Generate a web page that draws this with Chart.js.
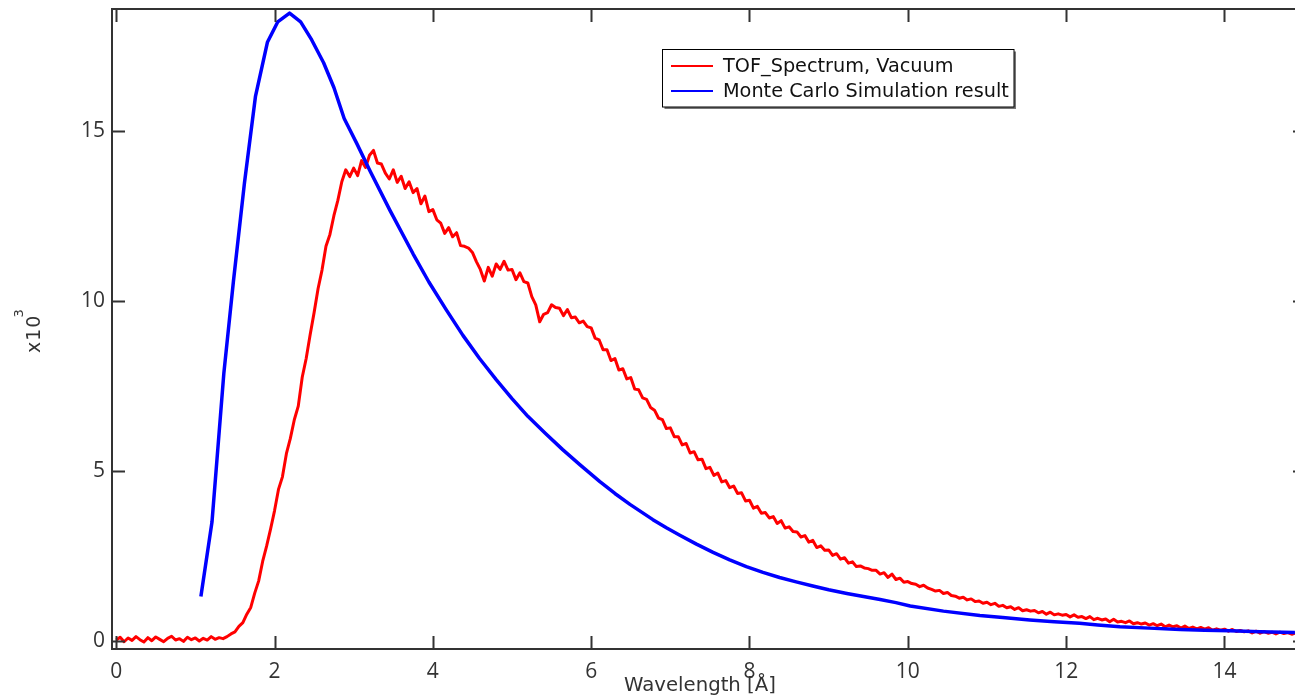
<!DOCTYPE html>
<html>
<head>
<meta charset="utf-8">
<title>TOF spectrum vs Monte Carlo</title>
<script src="https://cdn.jsdelivr.net/npm/chart.js@4.4.1/dist/chart.umd.min.js"></script>
<style>
  html, body { margin: 0; padding: 0; background: #fff; }
  #wrap { width: 1295px; height: 698px; overflow: hidden; position: relative; }
  canvas { display: block; }
</style>
</head>
<body>
<div id="wrap"><canvas id="c" width="1310" height="698" style="width:1310px;height:698px"></canvas></div>
<script>
// ---- data (counts in units of 10^3) ----
const xTicks = [0, 2, 4, 6, 8, 10, 12, 14];
const yTicks = [0, 5, 10, 15];

const tofLabel = 'TOF_Spectrum, Vacuum';
const mcLabel = 'Monte Carlo Simulation result';
const xTitle = 'Wavelength [Å]';
const yTitle = 'x10';
const yTitleExp = '3';

// measured spectrum, sampled every 0.05 Å from 0 Å
const tofStart = 0;
const tofStep = 0.05;
const tofCounts = [
  0.02, 0.10, -0.03, 0.08, 0.01, 0.12, 0.03, -0.04, 0.09, 0.00, 0.11, 0.04, -0.03, 0.07, 0.13, 0.02, 0.06, -0.02, 0.10, 0.03,
  0.08, -0.01, 0.07, 0.02, 0.12, 0.04, 0.09, 0.06, 0.12, 0.20, 0.26, 0.42, 0.53, 0.78, 0.98, 1.40, 1.76, 2.33, 2.78, 3.28,
  3.82, 4.45, 4.82, 5.50, 5.95, 6.50, 6.90, 7.75, 8.30, 9.00, 9.65, 10.35, 10.90, 11.60, 11.95, 12.50, 12.95, 13.50, 13.85, 13.65,
  13.90, 13.68, 14.12, 13.92, 14.28, 14.42, 14.05, 14.02, 13.75, 13.58, 13.85, 13.48, 13.66, 13.30, 13.50, 13.18, 13.30, 12.85, 13.08, 12.62,
  12.68, 12.38, 12.28, 11.98, 12.15, 11.88, 12.00, 11.62, 11.60, 11.55, 11.42, 11.15, 10.92, 10.58, 10.98, 10.72, 11.08, 10.92, 11.16, 10.90,
  10.92, 10.62, 10.82, 10.56, 10.52, 10.12, 9.88, 9.38, 9.60, 9.65, 9.88, 9.80, 9.78, 9.56, 9.74, 9.50, 9.52, 9.35, 9.40, 9.24,
  9.20, 8.90, 8.85, 8.56, 8.56, 8.24, 8.30, 7.96, 8.00, 7.70, 7.74, 7.40, 7.38, 7.14, 7.10, 6.86, 6.78, 6.55, 6.50, 6.24,
  6.26, 6.00, 6.00, 5.76, 5.80, 5.52, 5.56, 5.32, 5.34, 5.06, 5.10, 4.86, 4.93, 4.67, 4.71, 4.50, 4.55, 4.33, 4.35, 4.11,
  4.13, 3.90, 3.95, 3.75, 3.77, 3.61, 3.65, 3.45, 3.53, 3.31, 3.35, 3.21, 3.20, 3.05, 3.09, 2.90, 2.95, 2.74, 2.79, 2.66,
  2.67, 2.51, 2.56, 2.40, 2.44, 2.28, 2.32, 2.18, 2.20, 2.14, 2.12, 2.07, 2.07, 1.96, 2.00, 1.86, 1.96, 1.80, 1.84, 1.72,
  1.74, 1.68, 1.66, 1.59, 1.63, 1.55, 1.51, 1.46, 1.48, 1.39, 1.42, 1.33, 1.31, 1.25, 1.28, 1.20, 1.23, 1.15, 1.17, 1.10,
  1.13, 1.06, 1.10, 1.01, 1.04, 0.97, 1.00, 0.92, 0.97, 0.88, 0.91, 0.87, 0.89, 0.82, 0.86, 0.78, 0.84, 0.76, 0.79, 0.75,
  0.77, 0.70, 0.76, 0.69, 0.71, 0.65, 0.71, 0.62, 0.66, 0.61, 0.64, 0.56, 0.63, 0.55, 0.57, 0.53, 0.58, 0.50, 0.53, 0.49,
  0.52, 0.46, 0.50, 0.44, 0.49, 0.41, 0.46, 0.41, 0.44, 0.37, 0.43, 0.36, 0.40, 0.35, 0.39, 0.34, 0.38, 0.31, 0.35, 0.31,
  0.34, 0.28, 0.33, 0.27, 0.30, 0.26, 0.29, 0.23, 0.28, 0.22, 0.27, 0.22, 0.25, 0.20, 0.25, 0.21, 0.24, 0.19, 0.23
];

// simulated spectrum
const mcWavelength = [
  1.07, 1.21, 1.36, 1.48, 1.62, 1.76, 1.91, 2.04, 2.19, 2.33,
  2.47, 2.62, 2.75, 2.88, 3.04, 3.21, 3.46, 3.75, 3.95, 4.17,
  4.38, 4.59, 4.80, 5.00, 5.20, 5.42, 5.64, 5.86, 6.11, 6.30,
  6.49, 6.78, 6.95, 7.12, 7.33, 7.54, 7.75, 7.96, 8.17, 8.38,
  8.59, 8.80, 9.00, 9.23, 9.44, 9.65, 9.85, 10.03, 10.45, 10.91,
  11.20, 11.54, 11.85, 12.17, 12.40, 12.68, 13.05, 13.44, 13.75, 14.07,
  14.45, 14.89
];
const mcCounts = [
  1.30, 3.49, 7.87, 10.55, 13.46, 16.02, 17.60, 18.20, 18.46, 18.20,
  17.67, 17.00, 16.27, 15.36, 14.62, 13.80, 12.65, 11.38, 10.55, 9.73,
  8.98, 8.30, 7.68, 7.12, 6.60, 6.10, 5.62, 5.17, 4.68, 4.33,
  4.01, 3.56, 3.32, 3.10, 2.84, 2.60, 2.38, 2.18, 2.01, 1.86,
  1.73, 1.61, 1.50, 1.39, 1.30, 1.21, 1.12, 1.02, 0.87, 0.74,
  0.68, 0.61, 0.56, 0.51, 0.46, 0.41, 0.37, 0.33, 0.31, 0.29,
  0.26, 0.24
];

// ---- styling ----
const TICK_FONT = "'Open Sans', 'DejaVu Sans', sans-serif";
const TEXT_FONT = "'DejaVu Sans', 'Open Sans', sans-serif";
const AXIS_COLOR = '#333';
const TEXT_COLOR = '#333';
const RED = '#ff0000';
const BLUE = '#0000ff';
const TICK_LEN = 13;

const tofPoints = tofCounts.map((v, i) => ({ x: +(tofStart + i * tofStep).toFixed(2), y: v }));
const mcPoints = mcWavelength.map((x, i) => ({ x: x, y: mcCounts[i] }));

// pick a font size so that a string spans the given width
function fitFont(ctx, text, family, width, base) {
  ctx.font = base + 'px ' + family;
  const w = ctx.measureText(text).width;
  return base * width / w;
}

// frame with inward ticks on all four sides, legend box and axis titles
const decorations = {
  id: 'decorations',
  afterDatasetsDraw(chart) {
    const ctx = chart.ctx;
    const { left, right, top, bottom } = chart.chartArea;
    const xs = chart.scales.x, ys = chart.scales.y;
    ctx.save();
    ctx.strokeStyle = AXIS_COLOR;
    ctx.lineWidth = 2;
    ctx.beginPath();
    ctx.rect(left, top, right - left, bottom - top);
    for (const v of xTicks) {
      const px = Math.round(xs.getPixelForValue(v)) + 0.5;
      ctx.moveTo(px, bottom); ctx.lineTo(px, bottom - TICK_LEN);
      ctx.moveTo(px, top); ctx.lineTo(px, top + TICK_LEN);
    }
    for (const v of yTicks) {
      const py = Math.round(ys.getPixelForValue(v)) + 0.5;
      ctx.moveTo(left, py); ctx.lineTo(left + TICK_LEN, py);
      ctx.moveTo(right, py); ctx.lineTo(right - TICK_LEN, py);
    }
    ctx.stroke();
    ctx.restore();
  },
  afterDraw(chart) {
    const ctx = chart.ctx;
    ctx.save();
    // legend box with drop shadow
    const bx = 662.5, by = 49.5, bw = 351.5, bh = 57.5;
    ctx.fillStyle = '#777';
    ctx.fillRect(bx + 2, by + 2, bw, bh);
    ctx.fillStyle = '#fff';
    ctx.fillRect(bx, by, bw, bh);
    ctx.strokeStyle = '#000';
    ctx.lineWidth = 1;
    ctx.strokeRect(bx, by, bw, bh);
    const rows = [
      { label: chart.data.datasets[1].label, color: chart.data.datasets[1].borderColor, y: 66 },
      { label: chart.data.datasets[0].label, color: chart.data.datasets[0].borderColor, y: 91 }
    ];
    const legendSize = fitFont(ctx, rows[1].label, TEXT_FONT, 286, 18);
    ctx.font = legendSize.toFixed(2) + 'px ' + TEXT_FONT;
    ctx.textBaseline = 'middle';
    ctx.textAlign = 'left';
    for (const r of rows) {
      ctx.strokeStyle = r.color;
      ctx.lineWidth = 2;
      ctx.beginPath();
      ctx.moveTo(671, r.y); ctx.lineTo(713, r.y);
      ctx.stroke();
      ctx.fillStyle = '#111';
      ctx.fillText(r.label, 723, r.y + 1);
    }
    // x axis title
    ctx.fillStyle = TEXT_COLOR;
    const xtSize = fitFont(ctx, xTitle, TEXT_FONT, 152, 18);
    ctx.font = xtSize.toFixed(2) + 'px ' + TEXT_FONT;
    ctx.textAlign = 'center';
    ctx.textBaseline = 'middle';
    ctx.fillText(xTitle, 700, 686);
    // y axis title, rotated, with superscript exponent
    ctx.translate(40, 353);
    ctx.rotate(-Math.PI / 2);
    ctx.textAlign = 'left';
    ctx.textBaseline = 'alphabetic';
    ctx.font = '19px ' + TEXT_FONT;
    ctx.letterSpacing = '1px';
    const w = ctx.measureText(yTitle).width;
    ctx.fillText(yTitle, 0, 0);
    ctx.letterSpacing = '0px';
    ctx.font = '13px ' + TEXT_FONT;
    ctx.fillText(yTitleExp, w - 3, -17);
    ctx.restore();
  }
};

new Chart(document.getElementById('c'), {
  type: 'line',
  data: {
    datasets: [
      {
        label: mcLabel,
        data: mcPoints,
        borderColor: BLUE,
        borderWidth: 3.5,
        pointRadius: 0,
        tension: 0,
        borderJoinStyle: 'round',
        order: 0
      },
      {
        label: tofLabel,
        data: tofPoints,
        borderColor: RED,
        borderWidth: 3,
        pointRadius: 0,
        tension: 0,
        borderJoinStyle: 'round',
        order: 1
      }
    ]
  },
  options: {
    responsive: false,
    animation: false,
    devicePixelRatio: 1,
    layout: { padding: { left: 0, right: 4, top: 9, bottom: 0 } },
    plugins: { legend: { display: false }, tooltip: { enabled: false } },
    scales: {
      x: {
        type: 'linear',
        min: -0.053,
        max: 15.03,
        afterBuildTicks: s => { s.ticks = xTicks.map(v => ({ value: v })); },
        afterFit: s => { s.height = 49; s.paddingLeft = 0; s.paddingRight = 0; },
        grid: { display: false, drawTicks: false },
        border: { display: false },
        ticks: {
          padding: 10,
          maxRotation: 0,
          autoSkip: false,
          color: TEXT_COLOR,
          font: { family: TICK_FONT, size: 21 },
          callback: v => String(v)
        }
      },
      y: {
        type: 'linear',
        min: -0.244,
        max: 18.58,
        afterBuildTicks: s => { s.ticks = yTicks.map(v => ({ value: v })); },
        afterFit: s => { s.width = 112; s.paddingTop = 0; s.paddingBottom = 0; },
        grid: { display: false, drawTicks: false },
        border: { display: false },
        ticks: {
          padding: 7,
          autoSkip: false,
          color: TEXT_COLOR,
          font: { family: TICK_FONT, size: 21 },
          callback: v => String(v)
        }
      }
    }
  },
  plugins: [decorations]
});
</script>
</body>
</html>
